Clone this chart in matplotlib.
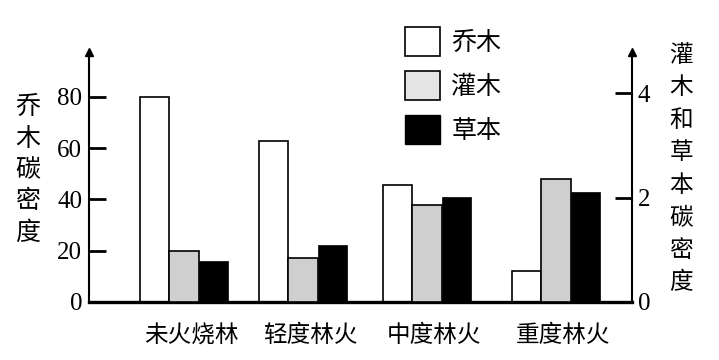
import matplotlib.pyplot as plt
from matplotlib.patches import Patch

plt.rcParams['font.family'] = ['Noto Sans CJK SC', 'DejaVu Sans']

# data
fires = ['未火烧林', '轻度林火', '中度林火', '重度林火']
trees = [80, 63, 45.5, 12]          # 乔木, left axis
shrubs = [0.97, 0.84, 1.85, 2.35]   # 灌木, right axis
herbs = [0.78, 1.09, 2.01, 2.10]    # 草本, right axis
left_ticks = [0, 20, 40, 60, 80]
right_ticks = [0, 2, 4]

# layout
xpos = [0, 0.96, 1.96, 3.0]
w = 0.238
gray = '#d0cfd0'
num_font = dict(family='Liberation Serif', size=18)

fig = plt.figure(figsize=(7.19, 3.6), dpi=100)
ax = fig.add_axes([89/719, 1-302/360, (632-89)/719, 250/360])
ax2 = ax.twinx()

ax.bar([x - w for x in xpos], trees, w, color='white', edgecolor='black', linewidth=1.2, zorder=2)
ax2.bar(xpos, shrubs, w, color=gray, edgecolor='black', linewidth=1.2, zorder=2)
ax2.bar([x + w for x in xpos], herbs, w, color='black', edgecolor='black', linewidth=0.5, zorder=2)

ax.set_xlim(-0.766, 3.613)
ax.set_ylim(0, 97.56)
ax2.set_ylim(0, 4.785)

ax.set_xticks([x + 0.06 for x in xpos])
ax.set_xticklabels(fires, fontsize=17)
ax.tick_params(axis='x', length=0, pad=16)

ax.set_yticks(left_ticks)
ax.set_yticklabels([str(t) for t in left_ticks], fontdict=num_font)
ax.tick_params(axis='y', direction='in', length=12, width=2, pad=5)
ax2.set_yticks(right_ticks)
ax2.set_yticklabels([str(t) for t in right_ticks], fontdict=num_font)
ax2.tick_params(axis='y', direction='in', length=12, width=2, pad=4)

for a in (ax, ax2):
    a.spines['top'].set_visible(False)
ax.spines['right'].set_visible(False)
ax2.spines['left'].set_visible(False)
ax2.spines['bottom'].set_visible(False)
ax.spines['left'].set_linewidth(1.5)
ax2.spines['right'].set_linewidth(1.5)
ax.spines['bottom'].set_linewidth(2.4)
ax.spines['bottom'].set_zorder(5)

# arrow heads on the two y axes
ax.plot([0], [1], marker='^', color='black', markersize=6, transform=ax.transAxes, clip_on=False)
ax.plot([1], [1], marker='^', color='black', markersize=6, transform=ax.transAxes, clip_on=False)

fig.text(28/719, 1-170/360, '\n'.join('乔木碳密度'), ha='center', va='center',
         fontsize=18, linespacing=1.27)
fig.text(681/719, 1-169/360, '\n'.join('灌木和草本碳密度'), ha='center', va='center',
         fontsize=17, linespacing=1.53)

handles = [Patch(facecolor='white', edgecolor='black', linewidth=1.2),
           Patch(facecolor='#e4e4e4', edgecolor='black', linewidth=1.2),
           Patch(facecolor='black', edgecolor='black')]
fig.legend(handles, ['乔木', '灌木', '草本'], loc='upper left',
           bbox_to_anchor=(405/719, 1-27/360), frameon=False, fontsize=18,
           borderpad=0, handlelength=1.4, handleheight=1.4, handletextpad=0.45,
           labelspacing=0.6, borderaxespad=0)

plt.savefig('out.png', dpi=100)
